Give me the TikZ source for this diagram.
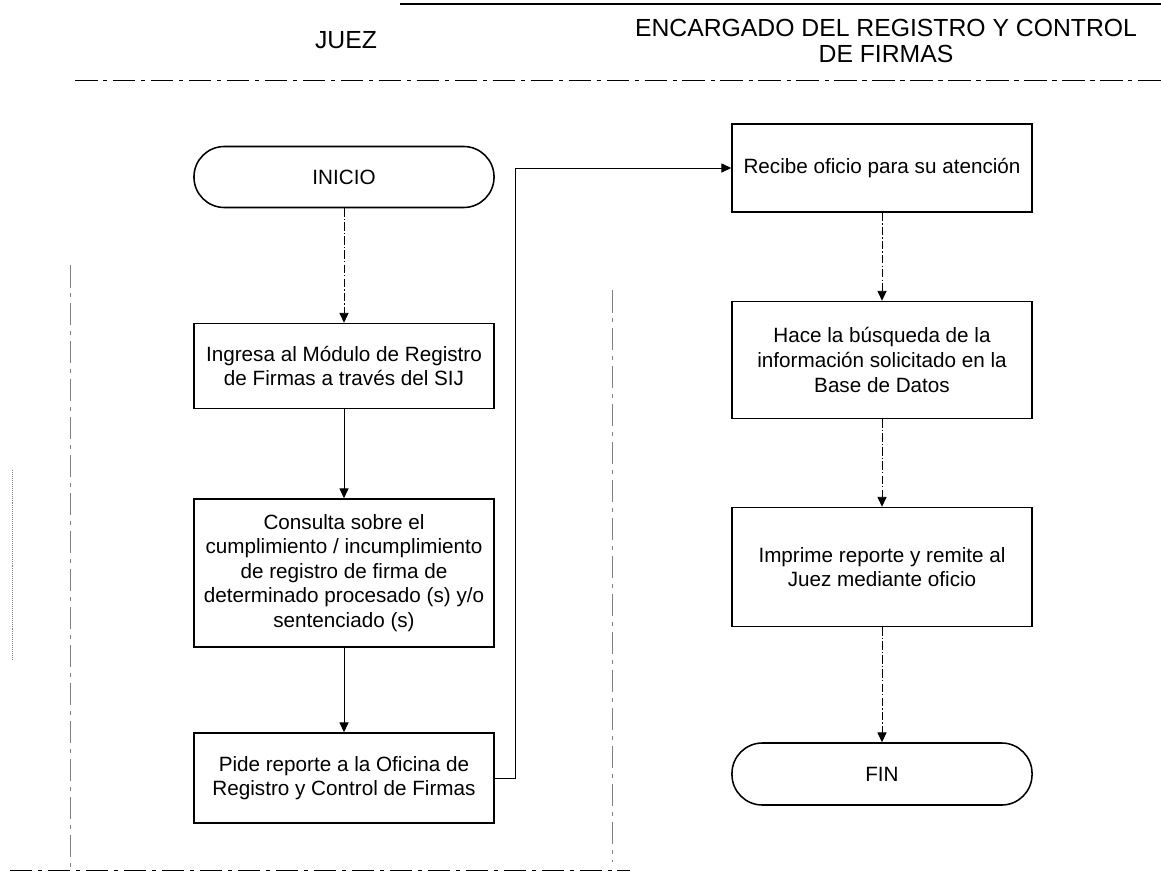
\documentclass[tikz,border=0pt]{standalone}
\usepackage{fontspec}
\setmainfont{Liberation Sans}
\usetikzlibrary{arrows.meta}

\begin{document}
\begin{tikzpicture}[x=0.025cm, y=-0.025cm,
  proc/.style={draw, line width=1.1pt, minimum width=7.5cm, align=center,
    inner sep=0pt, font=\fontsize{14.7}{17.5}\selectfont},
  term/.style={proc, rounded corners=0.76cm},
  flow/.style={-{Triangle[length=7pt,width=6.5pt]}, line width=0.6pt},
  faint/.style={flow, dash pattern=on 6pt off 1.5pt on 1pt off 1.5pt},
  lane/.style={line width=0.7pt, dash pattern=on 16pt off 4pt on 3pt off 4pt}]
\useasboundingbox (0,0) rectangle (1161,886);
% lanes
\draw [line width=1.3pt] (400,4) -- (1161,4);
\draw [lane] (75,80) -- (1161,80);
\draw [lane] (10,870) -- (630,870);
\draw [lane, gray] (70,265) -- (70,870);
\draw [lane, gray] (612,290) -- (612,862);
\draw [gray, densely dotted] (12,470) -- (12,660);
\node [font=\fontsize{17.6}{19}\selectfont] (juez) at (346,40) {JUEZ};
\node [font=\fontsize{17.6}{18.5}\selectfont, align=center] (encargado) at (886,41)
  {ENCARGADO DEL REGISTRO Y CONTROL\\DE FIRMAS};
% juez
\node [term, minimum height=1.525cm] (inicio) at (344,177) {INICIO};
\node [proc, minimum height=2.125cm] (ingresa) at (344,366)
  {Ingresa al Módulo de Registro\\de Firmas a través del SIJ};
\node [proc, minimum height=3.7cm] (consulta) at (344,573)
  {Consulta sobre el\\cumplimiento / incumplimiento\\de registro de firma de\\determinado procesado (s) y/o\\sentenciado (s)};
\node [proc, minimum height=2.25cm] (pide) at (344,778)
  {Pide reporte a la Oficina de\\Registro y Control de Firmas};
% encargado
\node [proc, minimum height=2.2cm] (recibe) at (882,168) {Recibe oficio para su atención};
\node [proc, minimum height=2.925cm] (hace) at (882,360)
  {Hace la búsqueda de la\\información solicitado en la\\Base de Datos};
\node [proc, minimum height=2.975cm] (imprime) at (882,567)
  {Imprime reporte y remite al\\Juez mediante oficio};
\node [term, minimum height=1.55cm] (fin) at (882,774) {FIN};
% flujo
\draw [faint] (inicio) -- (ingresa);
\draw [flow] (ingresa) -- (consulta);
\draw [flow] (consulta) -- (pide);
\draw [flow] (pide.east) -- ++(21,0) |- (recibe.west);
\draw [faint] (recibe) -- (hace);
\draw [faint] (hace) -- (imprime);
\draw [faint] (imprime) -- (fin);
\end{tikzpicture}
\end{document}
